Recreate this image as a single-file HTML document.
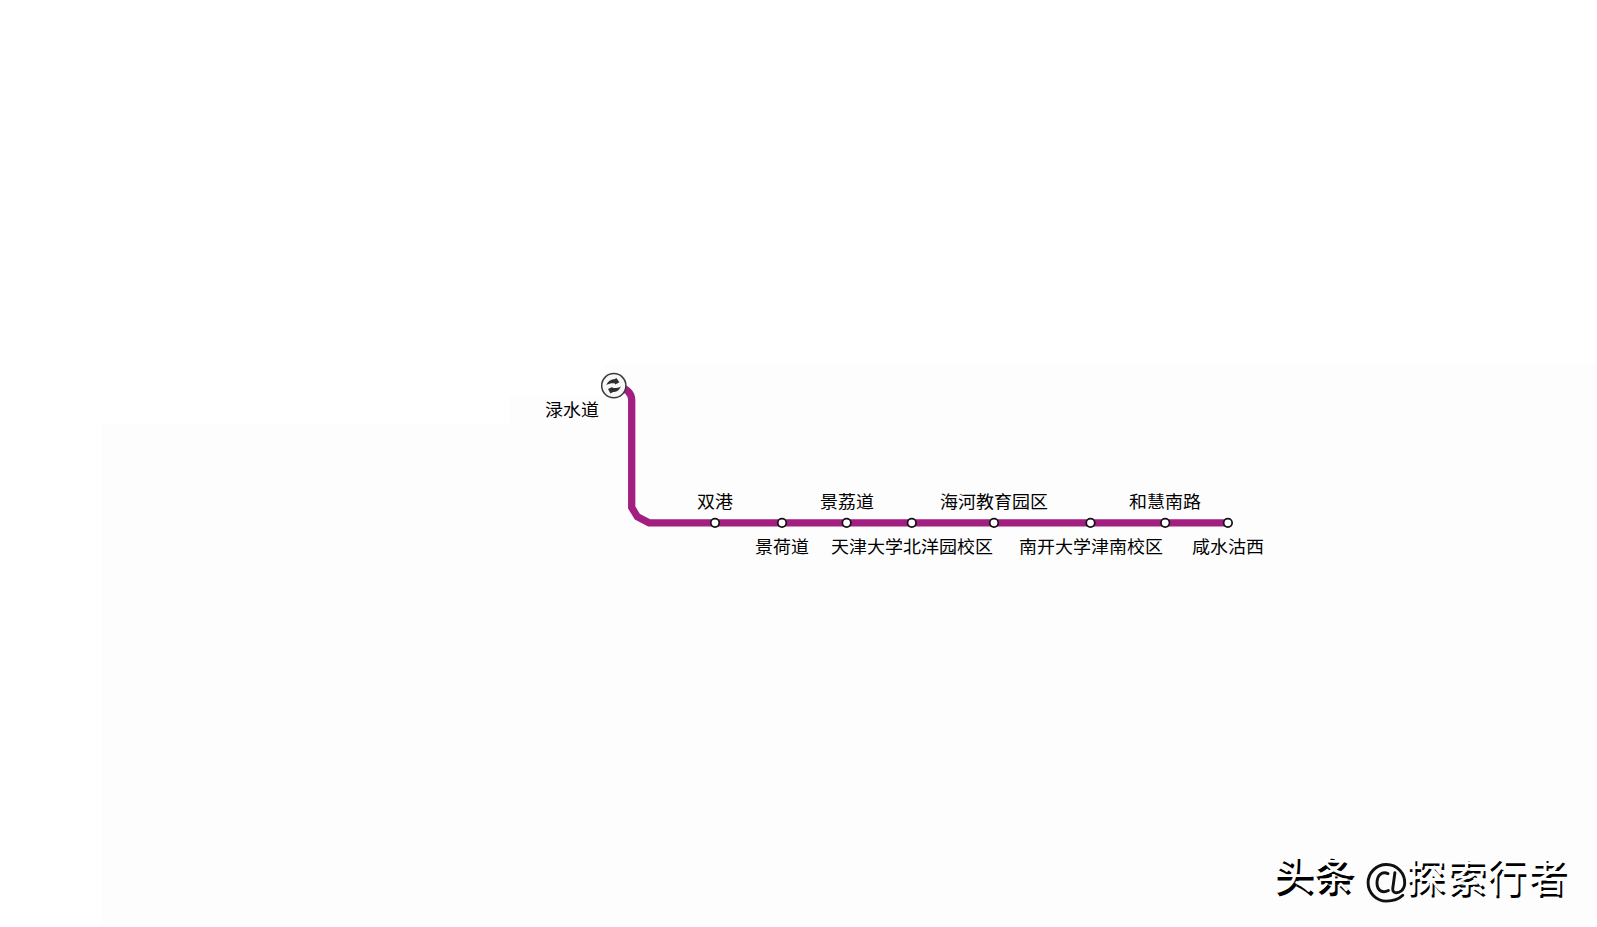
<!DOCTYPE html>
<html lang="zh-CN"><head><meta charset="utf-8">
<style>
html,body{margin:0;padding:0;background:#fff;}
body{width:1597px;height:927px;position:relative;overflow:hidden;font-family:"Liberation Sans",sans-serif;}
.bg{position:absolute;background:#fdfdfd;}
.lb{position:absolute;font-size:18px;line-height:18px;color:#000;white-space:nowrap;transform:translateX(-50%) scaleY(0.95);transform-origin:50% 0;}
.wm{position:absolute;font-size:39px;letter-spacing:1.7px;line-height:50px;white-space:nowrap;}
svg{position:absolute;left:0;top:0;}
</style></head><body>
<div class="bg" style="left:101px;top:424px;width:1496px;height:503px"></div>
<div class="bg" style="left:509px;top:396px;width:1088px;height:28px"></div>
<div class="bg" style="left:604px;top:364px;width:993px;height:32px"></div>
<svg width="1597" height="927" viewBox="0 0 1597 927">
<path d="M619.4 387.7 A12.3 12.3 0 0 1 631.7 400 L631.7 507.5 L637.4 516.8 L649 522.8 L1228 522.8" fill="none" stroke="#a21e80" stroke-width="7.3" stroke-linejoin="miter"/>
<g fill="#fff" stroke="#111" stroke-width="1.7">
<circle cx="715" cy="522.8" r="4.25"/>
<circle cx="782" cy="522.8" r="4.25"/>
<circle cx="846.6" cy="522.8" r="4.25"/>
<circle cx="911.8" cy="522.8" r="4.25"/>
<circle cx="994" cy="522.8" r="4.25"/>
<circle cx="1090.5" cy="522.8" r="4.25"/>
<circle cx="1165.2" cy="522.8" r="4.25"/>
<circle cx="1227.9" cy="522.8" r="4.25"/>
</g>
<circle cx="613.8" cy="385.7" r="12.1" fill="#f7f7f7" stroke="#3a3a3a" stroke-width="1.5"/>
<g fill="#2e2e2e">
<path d="M606.3 385 C608.3 380.8 611.5 379.3 614.5 379.3 L616.4 377.9 L619.4 382.3 L615.3 384.6 L614.8 383.4 C611.5 383.2 608.8 383.6 606.3 385 Z"/>
<path d="M620.9 386.6 C618.9 391 616 392.1 613 392.1 L610.5 393.5 L608 389 L612.3 386.9 L612.8 388.1 C616 388.2 618.8 388 620.9 386.6 Z"/>
</g>
</svg>
<div class="lb" style="left:572.3px;top:401.5px">渌水道</div>
<div class="lb" style="left:715px;top:493.9px">双港</div>
<div class="lb" style="left:846.6px;top:493.9px">景荔道</div>
<div class="lb" style="left:994px;top:493.9px">海河教育园区</div>
<div class="lb" style="left:1165px;top:493.9px">和慧南路</div>
<div class="lb" style="left:782px;top:538.5px">景荷道</div>
<div class="lb" style="left:911.8px;top:538.5px">天津大学北洋园校区</div>
<div class="lb" style="left:1090.5px;top:538.5px">南开大学津南校区</div>
<div class="lb" style="left:1228px;top:538.5px">咸水沽西</div>
<div class="wm" style="left:1275.5px;top:854px;font-weight:700;color:#000">头条</div>
<div class="wm" style="left:1273.5px;top:851px;font-weight:300;color:#fff">头条</div>
<svg width="1597" height="927" style="position:absolute;left:0;top:0"><g fill="none" stroke="#111" stroke-width="2.9" stroke-linecap="round">
<path d="M1402.8 895.3 C1398.5 899.5 1392 901.1 1386.4 901.1 A18.3 18.3 0 0 1 1386.4 864.5 A18.3 18.3 0 0 1 1404.7 884 C1404.2 890 1399.5 893 1396 892.8 C1393 892.6 1392.5 890 1392.8 888 L1394.9 872.8"/>
<path d="M1388 873.6 C1382 871 1377 875 1377 883 C1377 891 1383 893.5 1388.4 890.5"/>
</g></svg>
<div class="wm" style="left:1408px;top:856px;font-weight:500;color:#000">探索行者</div>
<div class="wm" style="left:1406px;top:853px;font-weight:300;color:#fff">探索行者</div>
</body></html>
